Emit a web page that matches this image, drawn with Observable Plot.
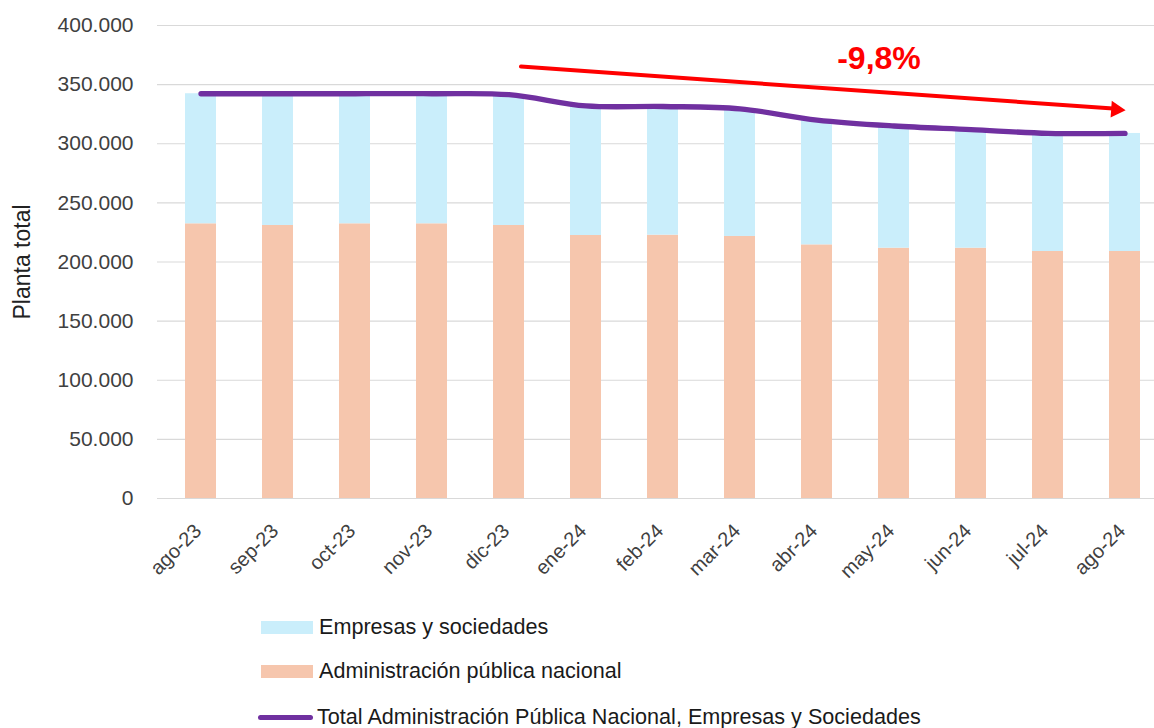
<!DOCTYPE html>
<html><head><meta charset="utf-8">
<script src="https://cdn.jsdelivr.net/npm/d3@7"></script>
<script src="https://cdn.jsdelivr.net/npm/@observablehq/plot@0.6"></script>
<style>
body{margin:0;background:#fff;font-family:"Liberation Sans",Arial,sans-serif;}
#wrap{position:relative;width:1154px;height:728px;overflow:hidden;background:#fff}
#chart{position:absolute;left:0;top:0}
.leg{position:absolute;left:261px;display:flex;align-items:center;font-size:21.6px;color:#1a1a1a;height:26px;white-space:nowrap}
.sw{width:52px;height:13px;margin-right:6px}
.ln{width:55px;height:5px;border-radius:3px;margin-right:4px;margin-left:-3px}
</style></head>
<body>
<div id="wrap">
<div id="chart"></div>
<div class="leg" style="top:614px"><div class="sw" id="sw1"></div><span id="l1"></span></div>
<div class="leg" style="top:658px"><div class="sw" id="sw2"></div><span id="l2"></span></div>
<div class="leg" style="top:704px"><div class="ln" id="sw3"></div><span id="l3"></span></div>
</div>
<script>
const months = ["ago-23","sep-23","oct-23","nov-23","dic-23","ene-24","feb-24","mar-24","abr-24","may-24","jun-24","jul-24","ago-24"];
const admin = [232300, 230900, 232300, 232300, 230900, 222400, 222700, 221600, 214500, 211700, 211700, 208900, 208900];
const empresas = [110000, 111400, 110000, 110000, 110600, 109600, 108800, 107900, 105500, 103300, 100300, 99900, 99800];
const seriesNames = ["Administración pública nacional", "Empresas y sociedades"];
const seriesColors = ["#F6C6AD", "#CAEEFB"];
const totalName = "Total Administración Pública Nacional, Empresas y Sociedades";
const totalColor = "#7030A0";
const yTicks = [0, 50000, 100000, 150000, 200000, 250000, 300000, 350000, 400000];
const arrowX = ["dic-23", "ago-24"];
const arrowY = [366000, 329000];
const changeLabel = "-9,8%";
const changeX = "may-24";
const changeY = 372000;
const yLabel = "Planta total";

const rows = months.flatMap((m, i) => [
  {month: m, serie: seriesNames[0], value: admin[i]},
  {month: m, serie: seriesNames[1], value: empresas[i]}
]);
const totals = months.map((m, i) => ({month: m, total: admin[i] + empresas[i]}));
const fmt = d3.formatLocale({thousands: ".", decimal: ",", grouping: [3], currency: ["", ""]}).format(",");

const chart = Plot.plot({
  width: 1154, height: 600,
  marginLeft: 157, marginRight: 0, marginTop: 25, marginBottom: 102,
  style: {fontFamily: "'Liberation Sans', Arial, sans-serif", background: "white", color: "#404040", overflow: "visible"},
  x: {domain: months, range: [157, 1167], paddingInner: 0.6, paddingOuter: 0.3, axis: null},
  y: {domain: [0, 400000], axis: null},
  color: {domain: seriesNames, range: seriesColors},
  marks: [
    Plot.ruleY(yTicks.filter(d => d > 0), {stroke: "#d9d9d9", strokeWidth: 1.2}),
    Plot.barY(rows, {x: "month", y: "value", fill: "serie"}),
    Plot.ruleY([0], {stroke: "#d9d9d9", strokeWidth: 1.2}),
    Plot.line(totals, {x: "month", y: "total", stroke: totalColor, strokeWidth: 5.3, curve: "catmull-rom", strokeLinecap: "round"}),
    Plot.arrow([0], {x1: () => arrowX[0], x2: () => arrowX[1], y1: () => arrowY[0], y2: () => arrowY[1], stroke: "red", strokeWidth: 4, headLength: 0, insetStart: 12, insetEnd: 12}),
    Plot.dot([0], {x: () => arrowX[1], y: () => arrowY[1], symbol: "triangle", r: 6.2, fill: "red", stroke: "none", rotate: 94, dx: -9}),
    Plot.text([changeLabel], {x: () => changeX, y: () => changeY, text: d => d, dx: -15, fill: "red", fontWeight: "bold", fontSize: 32}),
    Plot.axisY(yTicks, {tickSize: 0, tickPadding: 24, tickFormat: fmt, fontSize: 21, label: null}),
    Plot.axisX(months, {tickSize: 0, tickRotate: -45, tickPadding: 29, dx: -3, fontSize: 20, label: null}),
    Plot.text([yLabel], {frameAnchor: "left", dx: -135, rotate: -90, textAnchor: "middle", text: d => d, fontSize: 23, fill: "#222"})
  ]
});
document.getElementById("chart").appendChild(chart);
document.getElementById("sw1").style.background = seriesColors[1];
document.getElementById("sw2").style.background = seriesColors[0];
document.getElementById("sw3").style.background = totalColor;
document.getElementById("l1").textContent = seriesNames[1];
document.getElementById("l2").textContent = seriesNames[0];
document.getElementById("l3").textContent = totalName;
</script>
</body></html>
